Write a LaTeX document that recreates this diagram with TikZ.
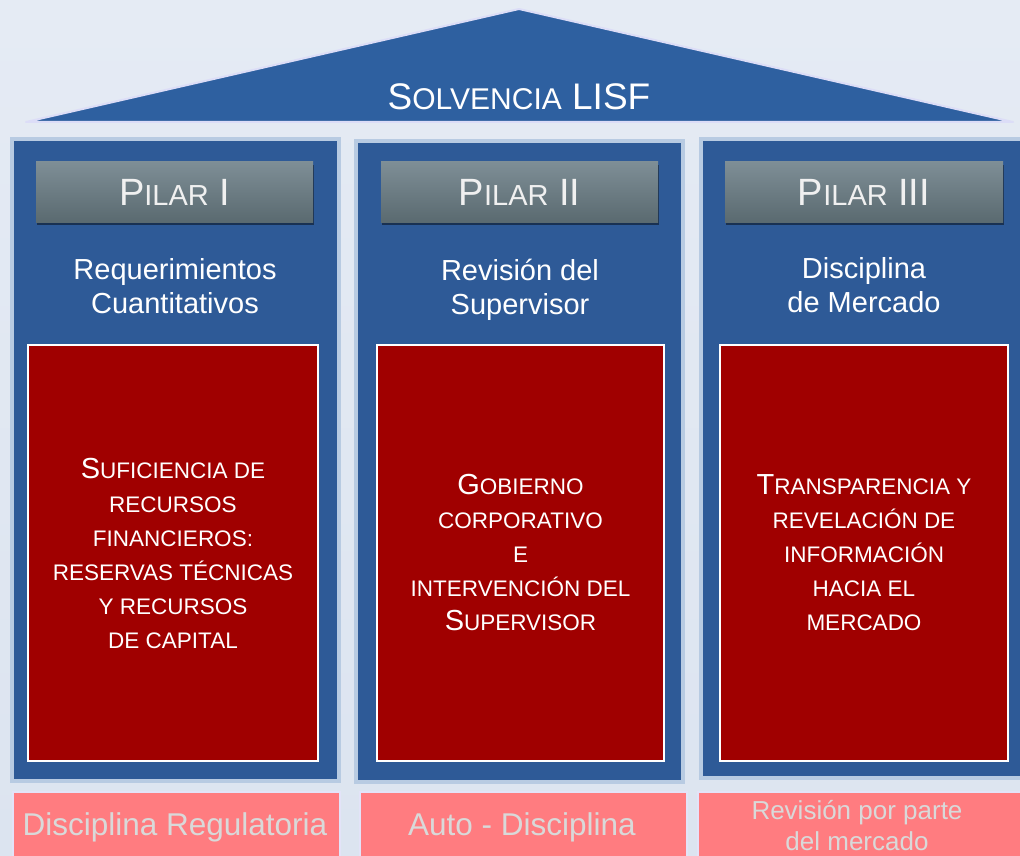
\documentclass[tikz,border=0pt]{standalone}
\usepackage{fontspec}
\setmainfont{Liberation Sans}
\usetikzlibrary{shadows}
\definecolor{bgc}{HTML}{E5EBF4}
\definecolor{bgc2}{HTML}{DCE4F0}
\definecolor{roofc}{HTML}{2E60A0}
\definecolor{roofedge}{HTML}{DCDDF7}
\definecolor{panelc}{HTML}{2E5A97}
\definecolor{paneledge}{HTML}{B8CBE2}
\definecolor{hdrtop}{HTML}{7E8E96}
\definecolor{hdrbot}{HTML}{5A6A70}
\definecolor{redc}{HTML}{A00000}
\definecolor{pinkc}{HTML}{FF7C80}
\definecolor{pinkedge}{HTML}{E3E3F8}
\definecolor{greytext}{HTML}{D9D9D9}
\definecolor{hdrtext}{HTML}{F0F0F0}
\newcommand{\fsz}[2]{{\fontsize{#1}{#1}\selectfont #2}}
\begin{document}
\begin{tikzpicture}[x=1pt,y=-1pt,
  boxbase/.style={rectangle, inner sep=0pt, outer sep=0pt, anchor=north west},
  panelbox/.style={boxbase, draw=paneledge, line width=4pt, fill=panelc},
  hdrbox/.style={boxbase, top color=hdrtop, bottom color=hdrbot, draw=none,
    drop shadow={shadow xshift=1pt, shadow yshift=-3pt, opacity=0.45, fill=black},
    text=hdrtext, minimum height=60pt},
  redbox/.style={boxbase, fill=redc, draw=white, line width=2pt, text=white,
    align=center, font=\fontsize{22.5}{34}\selectfont, minimum width=290pt, minimum height=416pt},
  pinkbox/.style={boxbase, fill=pinkc, draw=pinkedge, line width=1.5pt, minimum height=70pt},
  subtxt/.style={text=white, align=center, font=\fontsize{29}{34}\selectfont, inner sep=0pt},
  bottxt/.style={text=greytext, align=center, inner sep=0pt}
]
\useasboundingbox (0,0) rectangle (1020,856);
\shade[top color=bgc, bottom color=bgc2] (0,0) rectangle (1020,856);
% roof
\filldraw[fill=roofc, draw=roofedge, line width=2pt, line join=round] (26,122) -- (519,9) -- (1013,122) -- cycle;
\node[text=white, anchor=base, inner sep=0pt] (roof) at (519,110)
  {\fsz{37}{S}\fsz{30}{OLVENCIA}\fsz{37}{ LISF}};
% panels
\node[panelbox, minimum width=326.5pt, minimum height=642pt] (p1) at (12,139) {};
\node[panelbox, minimum width=327pt, minimum height=641pt] (p2) at (356,141) {};
\node[panelbox, minimum width=329pt, minimum height=639pt] (p3) at (701,139) {};
% headers
\node[hdrbox, minimum width=277pt] (h1) at (36,162) {\fsz{38}{P}\fsz{29}{ILAR}\fsz{38}{ I}};
\node[hdrbox, minimum width=277pt] (h2) at (381,162) {\fsz{38}{P}\fsz{29}{ILAR}\fsz{38}{ II}};
\node[hdrbox, minimum width=278pt] (h3) at (725,162) {\fsz{38}{P}\fsz{29}{ILAR}\fsz{38}{ III}};
% subtitles
\node[subtxt] (s1) at (175,286) {Requerimientos\\Cuantitativos};
\node[subtxt] (s2) at (520,290) {Revisión del\\Supervisor};
\node[subtxt] (s3) at (864,285) {Disciplina\\de Mercado};
% red boxes
\node[redbox] (r1) at (28,345)
  {\fsz{29}{S}UFICIENCIA DE\\RECURSOS\\FINANCIEROS:\\RESERVAS TÉCNICAS\\Y RECURSOS\\DE CAPITAL};
\node[redbox, minimum width=287pt] (r2) at (377,345)
  {\fsz{29}{G}OBIERNO\\CORPORATIVO\\E\\INTERVENCIÓN DEL\\\fsz{29}{S}UPERVISOR};
\node[redbox, minimum width=288pt] (r3) at (720,345)
  {\fsz{29}{T}RANSPARENCIA Y\\REVELACIÓN DE\\INFORMACIÓN\\HACIA EL\\MERCADO};
% bottom labels
\node[pinkbox, minimum width=327pt] (b1) at (13,792) {};
\node[pinkbox, minimum width=327pt] (b2) at (360,792) {};
\node[pinkbox, minimum width=330pt] (b3) at (698,792) {};
\node[bottxt, anchor=base, font=\fontsize{31.5}{31.5}\selectfont] (l1) at (175,835) {Disciplina Regulatoria};
\node[bottxt, anchor=base, font=\fontsize{31.5}{31.5}\selectfont] (l2) at (522,835) {Auto - Disciplina};
\node[bottxt, font=\fontsize{26}{31}\selectfont] (l3) at (857,826) {Revisión por parte\\del mercado};
\end{tikzpicture}
\end{document}
